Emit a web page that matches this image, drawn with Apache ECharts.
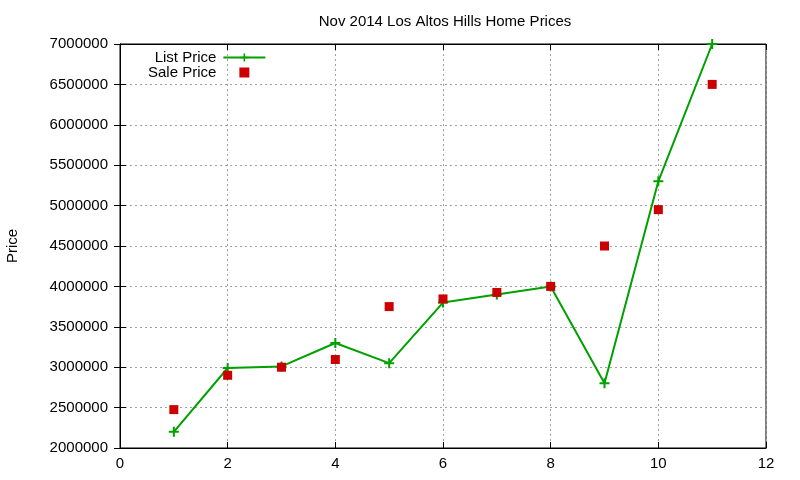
<!DOCTYPE html>
<html>
<head>
<meta charset="utf-8">
<script src="https://cdn.jsdelivr.net/npm/echarts@6/dist/echarts.min.js"></script>
<style>html,body{margin:0;padding:0;background:#fff}#c{width:800px;height:480px}</style>
</head>
<body>
<div id="c"></div>
<script>
var xValues = [1, 2, 3, 4, 5, 6, 7, 8, 9, 10, 11];
var listPrice = [2200000, 2990000, 3010000, 3300000, 3050000, 3800000, 3900000, 4000000, 2800000, 5300000, 7000000];
var salePrice = [2475000, 2900000, 3000000, 3095000, 3750000, 3845000, 3925000, 4000000, 4500000, 4950000, 6500000];
var titleText = 'Nov 2014 Los Altos Hills Home Prices';
var yName = 'Price';

var font = 'Liberation Sans, Arial, sans-serif';
var chart = echarts.init(document.getElementById('c'));
function pairs(ys){ return xValues.map(function(x,i){ return [x, ys[i]]; }); }
var gridLine = {show:true, lineStyle:{color:'#a0a0a0', type:[2,3], width:1}};
var plusPath = 'path://M-1,-5 h2 v4 h4 v2 h-4 v4 h-2 v-4 h-4 v-2 h4 z';
chart.setOption({
  animation:false,
  title:{text:titleText, left:440, top:9, textAlign:'center',
    textStyle:{fontFamily:font, fontSize:15, fontWeight:'normal', color:'#000'}},
  legend:{orient:'vertical', left:143, top:45, align:'right', itemWidth:42, itemHeight:10, itemGap:0,
    symbolKeepAspect:true,
    textStyle:{fontFamily:font, fontSize:15, color:'#000', padding:[0,2,0,0]},
    data:[{name:'List Price'},{name:'Sale Price', icon:'path://M0,0 h10 v10 h-10 z'}]},
  grid:{left:120, right:34, top:44, bottom:32, show:true, borderColor:'#000', borderWidth:1, backgroundColor:'transparent',
    containLabel:false, outerBoundsMode:'none'},
  xAxis:[{type:'value', min:0, max:12, interval:2,
    axisLine:{show:true, onZero:false, lineStyle:{color:'#000', width:1}},
    axisTick:{show:true, inside:true, length:6, lineStyle:{color:'#000'}},
    axisLabel:{fontFamily:font, fontSize:15, color:'#000', margin:8},
    splitLine:gridLine},
   {type:'value', position:'top', min:0, max:12, interval:2,
    axisLine:{show:true, lineStyle:{color:'#000'}},
    axisTick:{show:true, inside:true, length:6, lineStyle:{color:'#000'}},
    axisLabel:{show:false}, splitLine:{show:false}}],
  yAxis:[{type:'value', min:2000000, max:7000000, interval:500000,
    name:yName, nameLocation:'middle', nameGap:100, nameRotate:90,
    nameTextStyle:{fontFamily:font, fontSize:15, color:'#000'},
    axisLine:{show:true, lineStyle:{color:'#000', width:1}},
    axisTick:{show:true, inside:true, length:6, lineStyle:{color:'#000'}},
    axisLabel:{fontFamily:font, fontSize:15, color:'#000', margin:12, formatter:function(v){return String(v);}},
    splitLine:gridLine},
   {type:'value', position:'right', min:2000000, max:7000000, interval:500000,
    axisLine:{show:true, lineStyle:{color:'#000'}},
    axisTick:{show:true, inside:true, length:6, lineStyle:{color:'#000'}},
    axisLabel:{show:false}, splitLine:{show:false}}],
  series:[
    {name:'List Price', type:'line', data:pairs(listPrice), symbol:plusPath, symbolSize:10,
      lineStyle:{color:'#00a000', width:2}, itemStyle:{color:'#00a000'}, z:3},
    {name:'Sale Price', type:'scatter', data:pairs(salePrice), symbol:'rect', symbolSize:9,
      itemStyle:{color:'#cc0000', opacity:1}, z:4}
  ]
});
</script>
</body>
</html>
